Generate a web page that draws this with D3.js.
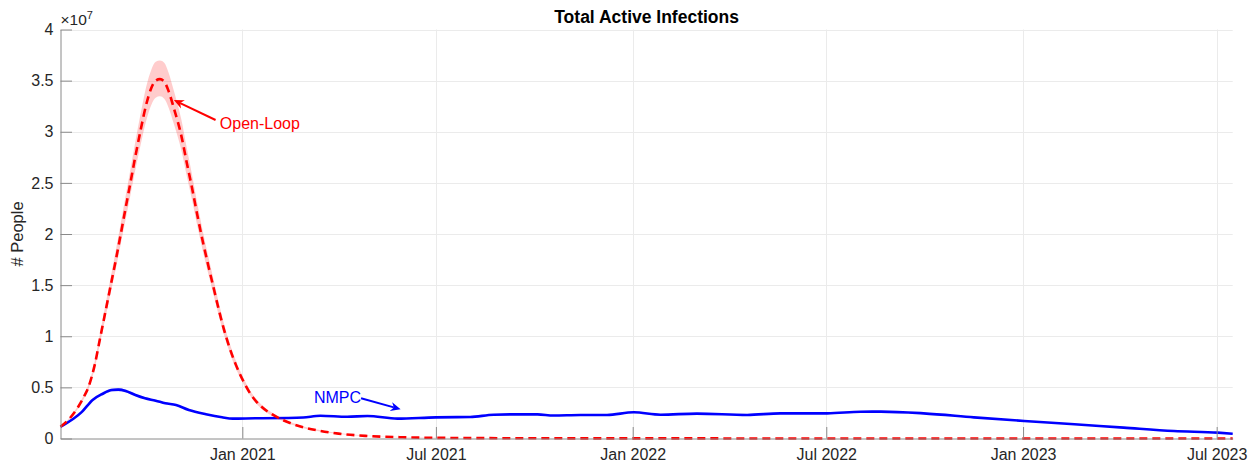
<!DOCTYPE html>
<html><head><meta charset="utf-8">
<script src="https://cdn.jsdelivr.net/npm/d3@7"></script>
<style>
body{margin:0;background:#fff}
svg{display:block}
text{font-family:"Liberation Sans",Arial,Helvetica,sans-serif}
</style>
</head><body>
<svg id="chart" width="1260" height="468"></svg>
<script>
// ---------- data (values in millions of people) ----------
const olDates = ["2020-07-15","2020-07-23","2020-07-31","2020-08-06","2020-08-10","2020-08-16","2020-08-21","2020-08-26","2020-08-31","2020-09-05","2020-09-09","2020-09-14","2020-09-18","2020-09-23","2020-09-28","2020-10-03","2020-10-08","2020-10-12","2020-10-16","2020-10-20","2020-10-24","2020-10-29","2020-11-05","2020-11-10","2020-11-15","2020-11-20","2020-11-25","2020-11-30","2020-12-05","2020-12-10","2020-12-15","2020-12-20","2020-12-26","2021-01-02","2021-01-09","2021-01-19","2021-01-29","2021-02-08","2021-02-22","2021-03-12","2021-04-01","2021-04-26","2021-05-31","2021-07-20","2021-10-08","2022-03-07","2022-09-23","2023-07-16"];
const olValues = [1.15,1.9,3.0,4.1,5.0,7.2,9.8,12.4,15.0,17.6,19.8,22.6,24.8,27.6,30.2,32.6,34.3,35.0,35.15,34.9,34.0,32.3,29.6,27.0,24.5,21.8,19.3,17.0,14.8,12.6,10.6,8.9,7.2,5.6,4.3,3.1,2.35,1.8,1.25,0.8,0.48,0.26,0.12,0.05,0.02,0.008,0.004,0.002];
const olUpper  = [1.16,1.98,3.14,4.3,5.25,7.56,10.3,13.05,15.8,18.55,20.85,23.8,26.1,29.05,31.8,34.35,36.1,36.85,36.97,36.75,35.8,34.0,31.2,28.45,25.8,22.95,20.3,17.9,15.6,13.27,11.17,9.4,7.6,5.93,4.57,3.31,2.52,1.94,1.35,0.87,0.53,0.29,0.135,0.057,0.023,0.009,0.0045,0.0023];
const olLower  = [1.14,1.83,2.87,3.91,4.76,6.86,9.33,11.8,14.28,16.75,18.85,21.5,23.6,26.28,28.75,31.03,32.65,33.32,33.46,33.22,32.37,30.75,28.18,25.7,23.32,20.75,18.37,16.18,14.09,12.0,10.09,8.47,6.85,5.32,4.08,2.92,2.2,1.68,1.16,0.74,0.44,0.24,0.11,0.046,0.018,0.007,0.0035,0.0018];

const nmpcDates = ["2020-07-15","2020-08-04","2020-08-14","2020-08-23","2020-09-01","2020-09-07","2020-09-14","2020-09-23","2020-10-02","2020-10-12","2020-10-21","2020-10-31","2020-11-12","2020-11-28","2020-12-13","2020-12-23","2021-01-13","2021-02-13","2021-02-27","2021-03-15","2021-04-09","2021-04-28","2021-05-26","2021-07-01","2021-08-02","2021-08-24","2021-09-15","2021-10-04","2021-10-19","2021-11-13","2021-12-08","2022-01-02","2022-01-27","2022-03-02","2022-04-18","2022-05-19","2022-07-02","2022-08-02","2022-08-21","2022-09-30","2022-11-16","2023-01-02","2023-02-18","2023-04-05","2023-05-22","2023-07-02","2023-07-16"];
const nmpcValues = [1.15,2.6,3.77,4.35,4.74,4.78,4.65,4.25,3.93,3.7,3.44,3.28,2.79,2.37,2.07,1.94,1.98,2.0,2.05,2.23,2.13,2.2,1.94,2.07,2.1,2.33,2.36,2.36,2.25,2.3,2.3,2.56,2.33,2.43,2.3,2.46,2.46,2.62,2.63,2.46,2.07,1.71,1.39,1.06,0.73,0.57,0.47];
const nmpcSpread = [0.01,0.06,0.1,0.13,0.15,0.15,0.14,0.12,0.1,0.09,0.08,0.07,0.06,0.05,0.05,0.04,0.04,0.04,0.04,0.04,0.04,0.04,0.04,0.04,0.04,0.04,0.04,0.04,0.04,0.04,0.04,0.04,0.04,0.04,0.04,0.04,0.04,0.04,0.04,0.04,0.03,0.03,0.03,0.02,0.02,0.02,0.02];

const xTickDates  = ["2021-01-01","2021-07-01","2022-01-01","2022-07-01","2023-01-01","2023-07-01"];
const xTickLabels = ["Jan 2021","Jul 2021","Jan 2022","Jul 2022","Jan 2023","Jul 2023"];
const yTickValues = [0,0.5,1,1.5,2,2.5,3,3.5,4];           // ×10^7
const yTickLabels = ["0","0.5","1","1.5","2","2.5","3","3.5","4"];
const xDomain = ["2020-07-15","2023-07-16"];

const titleText = "Total Active Infections";
const yLabelText = "# People";
const olNote   = {label:"Open-Loop", textDate:"2020-12-11", textVal:30.24, tailDate:"2020-12-07", tailVal:31.15, tipDate:"2020-10-29", tipVal:33.1};
const nmpcNote = {label:"NMPC", textDate:"2021-03-09", textVal:3.44, tailDate:"2021-04-22", tailVal:3.93, tipDate:"2021-05-29", tipVal:2.86};

// ---------- setup ----------
const parse = d3.utcParse("%Y-%m-%d");
const M = 1e6;
const svg = d3.select("#chart");
const L = 60.5, R = 1232.7, T = 29.5, B = 438.5;

const x = d3.scaleUtc().domain(xDomain.map(parse)).range([L, R]);
const y = d3.scaleLinear().domain([0, 4e7]).range([B, T]);

const ol = olDates.map((d,i)=>({d:parse(d), v:olValues[i]*M, hi:olUpper[i]*M, lo:olLower[i]*M}));
const nm = nmpcDates.map((d,i)=>({d:parse(d), v:nmpcValues[i]*M, hi:(nmpcValues[i]+nmpcSpread[i])*M, lo:(nmpcValues[i]-nmpcSpread[i])*M}));

const gridColor = "#ebebeb", axisColor = "#8a8a8a", textColor = "#262626";

// grid
const grid = svg.append("g");
grid.selectAll("line.h").data(yTickValues.slice(1)).join("line")
  .attr("x1", L).attr("x2", R)
  .attr("y1", d=>Math.round(y(d*1e7))+0.5).attr("y2", d=>Math.round(y(d*1e7))+0.5)
  .attr("stroke", gridColor).attr("stroke-width", 1);
grid.selectAll("line.v").data(xTickDates).join("line")
  .attr("x1", d=>Math.round(x(parse(d)))+0.5).attr("x2", d=>Math.round(x(parse(d)))+0.5)
  .attr("y1", T).attr("y2", B)
  .attr("stroke", gridColor).attr("stroke-width", 1);

// series
const area = d3.area().x(d=>x(d.d)).y0(d=>y(d.lo)).y1(d=>y(d.hi)).curve(d3.curveMonotoneX);
const line = d3.line().x(d=>x(d.d)).y(d=>y(d.v)).curve(d3.curveMonotoneX);

svg.append("path").datum(nm).attr("d", area).attr("fill", "rgba(40,40,255,0.28)").attr("stroke","none");
svg.append("path").datum(nm).attr("d", line).attr("fill","none").attr("stroke","#0000ff").attr("stroke-width",2.6).attr("stroke-linejoin","round");
svg.append("path").datum(ol).attr("d", area).attr("fill", "rgba(255,0,0,0.2)").attr("stroke","none");
svg.append("path").datum(ol).attr("d", line).attr("fill","none").attr("stroke","#ff0000").attr("stroke-width",2.6).attr("stroke-dasharray","8,5");

// axes
const yAxis = d3.axisLeft(y)
  .tickValues(yTickValues.map(v=>v*1e7))
  .tickFormat((d,i)=>yTickLabels[i])
  .tickSizeInner(-11.5).tickSizeOuter(0).tickPadding(7);
const gy = svg.append("g").attr("transform", `translate(${L},0)`).call(yAxis);
gy.select(".domain").attr("stroke", axisColor);
gy.selectAll(".tick line").attr("stroke", axisColor);
gy.selectAll(".tick text").attr("fill", textColor).style("font-size","16px")
  .style("font-family",'"Liberation Sans",Arial,sans-serif');

const xAxis = d3.axisBottom(x)
  .tickValues(xTickDates.map(parse))
  .tickFormat((d,i)=>xTickLabels[i])
  .tickSizeInner(-11.5).tickSizeOuter(0).tickPadding(10);
const gx = svg.append("g").attr("transform", `translate(0,${B})`).call(xAxis);
gx.select(".domain").attr("stroke", axisColor);
gx.selectAll(".tick line").attr("stroke", axisColor);
gx.selectAll(".tick text").attr("fill", textColor).style("font-size","16px")
  .style("font-family",'"Liberation Sans",Arial,sans-serif');

// exponent label
const ex = svg.append("text").attr("x", L).attr("y", 25).attr("fill", textColor).style("font-size","15.5px");
ex.append("tspan").text("×10");
ex.append("tspan").attr("dy", -6).style("font-size","11px").text("7");

// title
svg.append("text").attr("x", (L+R)/2).attr("y", 22.5).attr("text-anchor","middle")
  .attr("fill","#000").style("font-size","17.5px").style("font-weight","bold").text(titleText);

// y label
svg.append("text").attr("transform", `translate(23,${(T+B)/2}) rotate(-90)`)
  .attr("text-anchor","middle").attr("fill", textColor).style("font-size","16.5px").text(yLabelText);

// annotations
function arrow(x1,y1,x2,y2,color){
  const dx = x2-x1, dy = y2-y1, len = Math.hypot(dx,dy);
  const ux = dx/len, uy = dy/len, px = -uy, py = ux;
  const hl = 10, hw = 4.5, notch = 3;
  const bx = x2 - ux*hl, by = y2 - uy*hl;
  const nx = x2 - ux*(hl-notch), ny = y2 - uy*(hl-notch);
  svg.append("line").attr("x1",x1).attr("y1",y1).attr("x2",nx).attr("y2",ny)
    .attr("stroke",color).attr("stroke-width",2);
  svg.append("path").attr("d",`M${x2},${y2}L${bx+px*hw},${by+py*hw}L${nx},${ny}L${bx-px*hw},${by-py*hw}Z`)
    .attr("fill",color);
}
[[olNote,"#ff0000"],[nmpcNote,"#0000ff"]].forEach(([n,c])=>{
  svg.append("text").attr("x", x(parse(n.textDate))).attr("y", y(n.textVal*M))
    .attr("fill", c).style("font-size","16px").text(n.label);
  arrow(x(parse(n.tailDate)), y(n.tailVal*M), x(parse(n.tipDate)), y(n.tipVal*M), c);
});
</script>
</body></html>
